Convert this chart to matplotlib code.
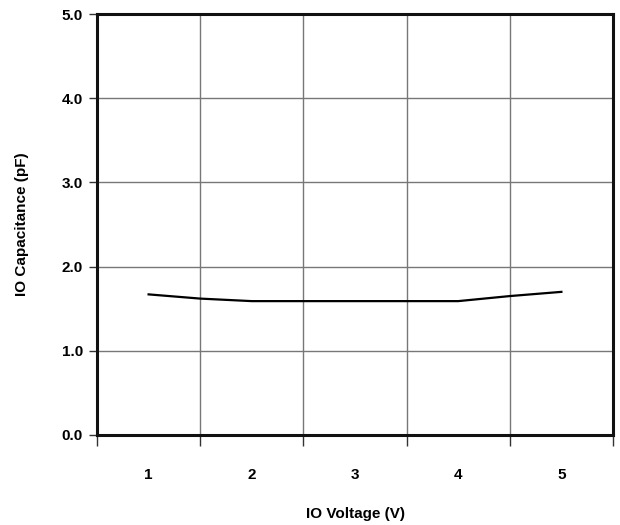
import matplotlib
matplotlib.use("Agg")
import matplotlib.pyplot as plt
from matplotlib.ticker import FixedLocator, NullFormatter, FixedFormatter

voltage = [1.0, 1.5, 2.0, 3.0, 4.0, 4.5, 5.0]
capacitance = [1.67, 1.62, 1.59, 1.59, 1.59, 1.65, 1.70]
x_labels = ["1", "2", "3", "4", "5"]
y_ticks = [0.0, 1.0, 2.0, 3.0, 4.0, 5.0]

plt.rcParams['font.family'] = ['Liberation Sans', 'DejaVu Sans']
plt.rcParams['font.weight'] = 'bold'

fig = plt.figure(figsize=(6.2, 5.25), dpi=100)
ax = fig.add_axes([97/620, 90/525, 516/620, 421/525])

ax.plot(voltage, capacitance, color='black', lw=1.6)

ax.set_xlim(0.5, 5.5)
ax.set_ylim(0, 5)

ax.xaxis.set_major_locator(FixedLocator([0.5, 1.5, 2.5, 3.5, 4.5, 5.5]))
ax.xaxis.set_major_formatter(NullFormatter())
ax.xaxis.set_minor_locator(FixedLocator([1, 2, 3, 4, 5]))
ax.xaxis.set_minor_formatter(FixedFormatter(x_labels))
ax.tick_params(axis='x', which='major', direction='out', length=8, width=1, color='#333333')
ax.tick_params(axis='x', which='minor', length=0, pad=24, labelsize=11)

ax.set_yticks(y_ticks)
ax.set_yticklabels([f"{v:.1f}" for v in y_ticks])
ax.tick_params(axis='y', direction='out', length=6, width=1, labelsize=11, pad=4, color='#333333')

ax.grid(True, which='major', color='#777777', lw=1.0)
ax.set_axisbelow(True)

for s in ax.spines.values():
    s.set_linewidth(2.2)
    s.set_color('#111111')

ax.set_xlabel("IO Voltage (V)", fontsize=11, fontweight='bold', labelpad=18)
ax.set_ylabel("IO Capacitance (pF)", fontsize=11, fontweight='bold', labelpad=24)

fig.savefig("out.png", dpi=100)
